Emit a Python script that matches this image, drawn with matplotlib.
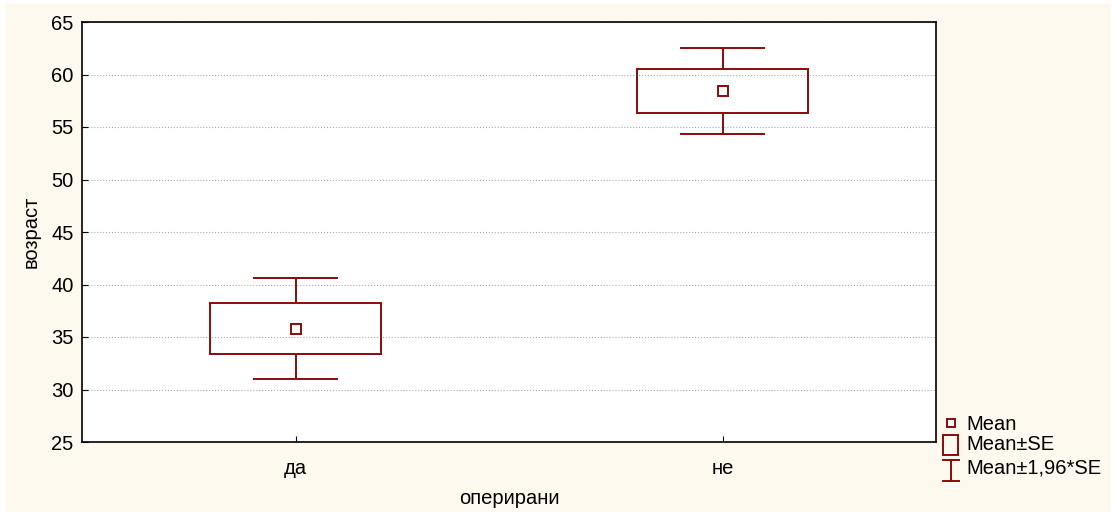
import matplotlib.pyplot as plt
from matplotlib.patches import Rectangle
from matplotlib.lines import Line2D

groups = ["да", "не"]
means = [35.8, 58.4]
se_lo = [33.35, 56.3]
se_hi = [38.25, 60.5]
ci_lo = [31.0, 54.3]
ci_hi = [40.6, 62.5]

red = "#8B0A0A"
cream = "#FEF9EE"
fs = 14.5

plt.rcParams['font.family'] = ['Liberation Sans', 'DejaVu Sans']

fig = plt.figure(figsize=(11.16, 5.16), dpi=100, facecolor="white")
fig.patches.append(Rectangle((5 / 1116, 4 / 516), 1106 / 1116, 508 / 516,
                             transform=fig.transFigure, facecolor=cream,
                             edgecolor="none", zorder=-10))
ax = fig.add_axes([82 / 1116, 1 - 442 / 516, 854 / 1116, 420 / 516])
ax.set_facecolor("white")

bw = 0.4   # box width
cw = 0.2   # cap width
for i in range(len(groups)):
    ax.vlines(i, ci_lo[i], se_lo[i], color=red, lw=1.4)
    ax.vlines(i, se_hi[i], ci_hi[i], color=red, lw=1.4)
    ax.hlines([ci_lo[i], ci_hi[i]], i - cw / 2, i + cw / 2, color=red, lw=1.4)
    ax.add_patch(Rectangle((i - bw / 2, se_lo[i]), bw, se_hi[i] - se_lo[i],
                           facecolor="none", edgecolor=red, lw=1.4, zorder=3))
ax.plot(range(len(groups)), means, ls="none", marker="s", ms=7,
        mfc="white", mec=red, mew=1.4, zorder=4)

ax.set_xlim(-0.5, 1.5)
ax.set_ylim(25, 65)
ax.set_xticks(range(len(groups)))
ax.set_xticklabels(groups)
ax.set_yticks(range(25, 66, 5))
ax.tick_params(direction="in", labelsize=fs, length=4)
ax.tick_params(axis="x", pad=12)
ax.tick_params(axis="y", pad=6)
ax.yaxis.grid(True, ls=":", color="#aaaaaa", lw=0.8)
ax.set_axisbelow(True)
for s in ax.spines.values():
    s.set_linewidth(1.2)
ax.set_xlabel("оперирани", fontsize=fs, labelpad=8)
ax.set_ylabel("возраст", fontsize=fs, labelpad=8)

# legend drawn manually (pixel coords)
def fx(x):
    return x / 1116

def fy(y):
    return 1 - y / 516

tf = fig.transFigure
fig.add_artist(Line2D([fx(951)], [fy(423)], ls="none", marker="s", ms=6,
                      mfc="white", mec=red, mew=1.4, transform=tf))
fig.add_artist(Rectangle((fx(943), fy(455)), 15 / 1116, 20 / 516, transform=tf,
                         facecolor="none", edgecolor=red, lw=1.4))
fig.add_artist(Line2D([fx(951), fx(951)], [fy(460), fy(481)], color=red, lw=1.4, transform=tf))
fig.add_artist(Line2D([fx(943), fx(959)], [fy(460), fy(460)], color=red, lw=1.4, transform=tf))
fig.add_artist(Line2D([fx(943), fx(959)], [fy(481), fy(481)], color=red, lw=1.4, transform=tf))
for y, t in [(424, "Mean"), (445, "Mean±SE"), (468, "Mean±1,96*SE")]:
    fig.text(fx(966), fy(y), t, fontsize=fs, va="center", ha="left")

fig.savefig("out.png", dpi=100, facecolor=fig.get_facecolor())
